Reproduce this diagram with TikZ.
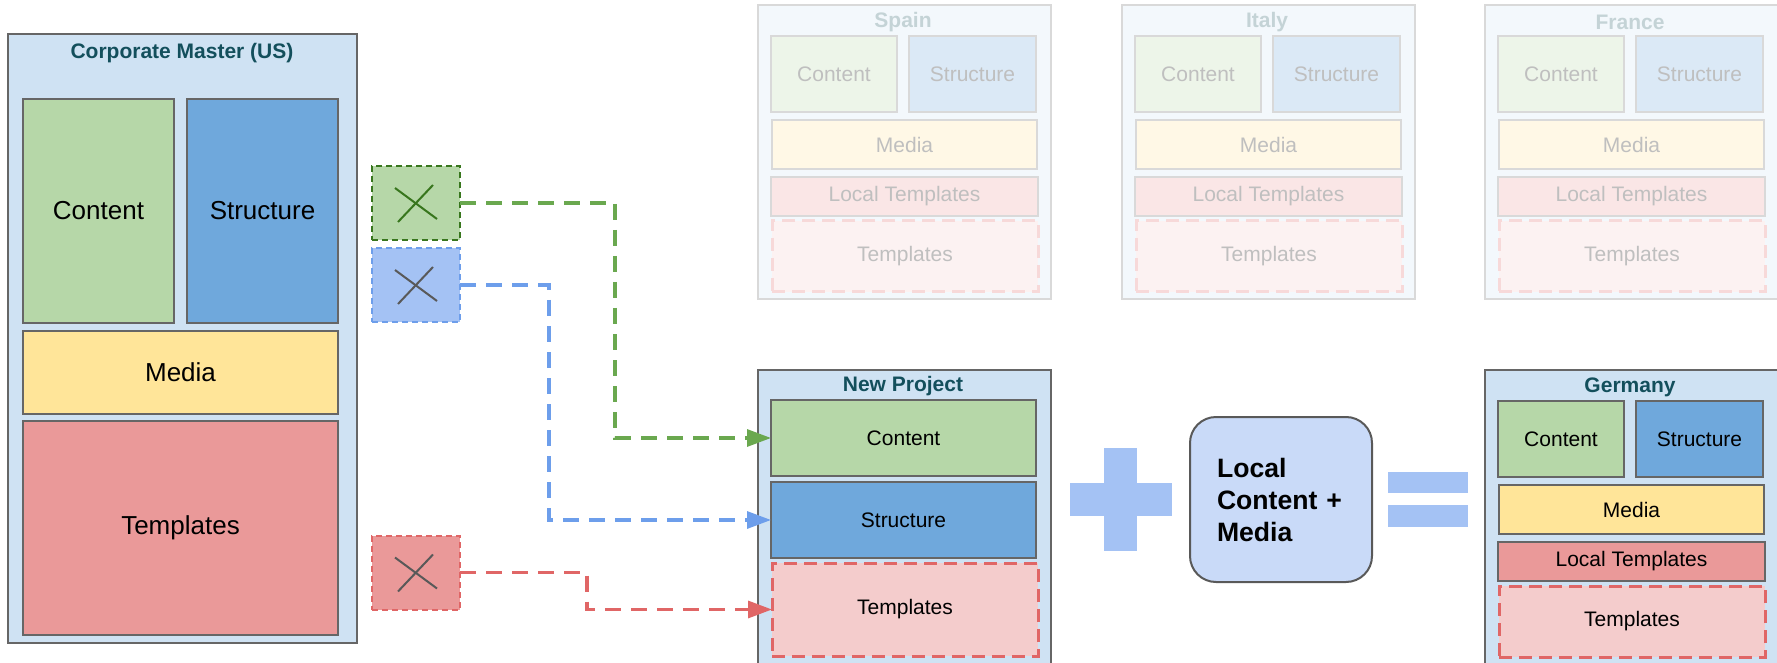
\documentclass[tikz,border=0pt]{standalone}
\usepackage{fontspec}
\setmainfont{Liberation Sans}
\usetikzlibrary{arrows.meta}

\definecolor{cOuter}{HTML}{CFE2F3}
\definecolor{cBorder}{HTML}{666666}
\definecolor{cContent}{HTML}{B6D7A8}
\definecolor{cStruct}{HTML}{6FA8DC}
\definecolor{cMedia}{HTML}{FFE599}
\definecolor{cTempl}{HTML}{EA9999}
\definecolor{cTemplLight}{HTML}{F4CCCC}
\definecolor{cRed}{HTML}{E06666}
\definecolor{cGreen}{HTML}{6AA84F}
\definecolor{cBlueLine}{HTML}{6D9EEB}
\definecolor{cDkGreen}{HTML}{38761D}
\definecolor{cXblue}{HTML}{A4C2F4}
\definecolor{cXgray}{HTML}{595959}
\definecolor{cLocal}{HTML}{C9DAF8}
\definecolor{cTitle}{HTML}{134F5C}

\tikzset{
  base/.style={draw=cBorder, line width=1pt, inner sep=0pt, outer sep=0pt,
    font=\fontsize{10.5}{12}\selectfont, text=black},
  nouter/.style={base, fill=cOuter},
  ncontent/.style={base, fill=cContent},
  nstruct/.style={base, fill=cStruct},
  nmedia/.style={base, fill=cMedia},
  nlocal/.style={base, fill=cTempl},
  ntempl/.style={base, fill=cTemplLight, draw=cRed, line width=1.5pt, dash pattern=on 6.5pt off 3.5pt},
  ntitle/.style={font=\fontsize{10.5}{12}\selectfont\bfseries, text=cTitle, inner sep=0pt},
  fbase/.style={base, draw=cBorder!25!white, text=black!25},
  fouter/.style={fbase, fill=cOuter!25!white},
  fcontent/.style={fbase, fill=cContent!25!white},
  fstruct/.style={fbase, fill=cStruct!25!white},
  fmedia/.style={fbase, fill=cMedia!25!white},
  flocal/.style={fbase, fill=cTempl!25!white},
  ftempl/.style={fbase, fill=cTemplLight!25!white, draw=cRed!25!white, line width=1.5pt, dash pattern=on 6.5pt off 3.5pt},
  ftitle/.style={ntitle, text=cTitle!25!white},
  bigtext/.style={font=\fontsize{13}{15}\selectfont},
  xbox/.style={line width=1pt, dash pattern=on 3pt off 2pt, inner sep=0pt, outer sep=0pt,
    minimum width=44pt, minimum height=37pt},
  conn/.style={line width=1.6pt, dash pattern=on 8pt off 5pt,
    -{Triangle[length=12pt,width=8.5pt]}},
  lbox/.style={draw=cXgray, line width=1pt, fill=cLocal, rounded corners=13pt,
    minimum width=91pt, minimum height=82.5pt, text width=64pt, align=left,
    inner sep=0pt, font=\fontsize{13.3}{16}\selectfont\bfseries},
}

\newcommand\bx[7]{\node[#2, minimum width={(#5-#3)*0.5pt}, minimum height={(#6-#4)*0.5pt}]
  (#1) at ({(#3+#5)/2},{(#4+#6)/2}) {#7};}

\newcommand\country[5]{%
\begin{scope}[shift={(#2,#3)}]
\bx{#1out}{#5outer}{0}{0}{293}{294}{}
\node[#5title] (#1ttl) at (145,17) {#4};
\bx{#1c}{#5content}{13}{31}{139}{107}{Content}
\bx{#1s}{#5struct}{151}{31}{278}{107}{Structure}
\bx{#1m}{#5media}{14}{115}{279}{164}{Media}
\bx{#1l}{#5local}{13}{172}{280}{211}{Local Templates}
\bx{#1t}{#5templ}{14}{216}{280}{287}{Templates}
\end{scope}}

\begin{document}
\begin{tikzpicture}[x=0.5pt, y=-0.5pt]
\useasboundingbox (0,0) rectangle (1777,663);
\clip (0,0) rectangle (1777,663);
\fill[white] (0,0) rectangle (1777,663);

% Corporate master
\bx{cm}{nouter}{8}{34}{357}{643}{}
\node[ntitle] (cmttl) at (182,53) {Corporate Master (US)};
\bx{cmc}{ncontent,bigtext}{23}{99}{174}{323}{Content}
\bx{cms}{nstruct,bigtext}{187}{99}{338}{323}{Structure}
\bx{cmm}{nmedia,bigtext}{23}{331}{338}{414}{Media}
\bx{cmt}{nlocal,bigtext}{23}{421}{338}{635}{Templates}

% X boxes
\node[xbox, fill=cContent, draw=cDkGreen] (gx) at (416,203) {};
\node[xbox, fill=cXblue, draw=cBlueLine] (bxx) at (416,285) {};
\node[xbox, fill=cTempl, draw=cRed] (rx) at (416,572.5) {};
\draw[line width=1pt, cDkGreen] ([shift={(-21,-15)}]gx.center) -- ([shift={(21,16)}]gx.center);
\draw[line width=1pt, cDkGreen] ([shift={(-18,19)}]gx.center) -- ([shift={(17,-18)}]gx.center);
\draw[line width=1pt, cXgray] ([shift={(-21,-15)}]bxx.center) -- ([shift={(21,16)}]bxx.center);
\draw[line width=1pt, cXgray] ([shift={(-18,19)}]bxx.center) -- ([shift={(17,-18)}]bxx.center);
\draw[line width=1pt, cXgray] ([shift={(-21,-15)}]rx.center) -- ([shift={(21,16)}]rx.center);
\draw[line width=1pt, cXgray] ([shift={(-18,19)}]rx.center) -- ([shift={(17,-18)}]rx.center);

% faded countries
\country{sp}{758}{5}{Spain}{f}
\country{it}{1122}{5}{Italy}{f}
\country{fr}{1485}{5}{France}{f}

% New project
\bx{np}{nouter}{758}{370}{1051}{680}{}
\node[ntitle] (npttl) at (903,386) {New Project};
\bx{npc}{ncontent}{771}{400}{1036}{476}{Content}
\bx{nps}{nstruct}{771}{482}{1036}{558}{Structure}
\bx{npt}{ntempl}{772}{563}{1038}{656}{Templates}

% Germany
\country{de}{1485}{370}{Germany}{n}

% connectors
\draw[conn, cGreen] (gx.east) -- ++(155,0) |- (npc.west);
\draw[conn, cBlueLine] (bxx.east) -- ++(89,0) |- (nps.west);
\draw[conn, cRed] (rx.east) -- ++(127,0) |- (npt.west);

% plus
\fill[cXblue] (1104,448) rectangle (1137,551);
\fill[cXblue] (1070,483) rectangle (1172,516);

% local box
\node[lbox] (loc) at (1281,499.5) {Local\\Content +\\Media};

% equals
\fill[cXblue] (1388,472) rectangle (1468,493);
\fill[cXblue] (1388,505) rectangle (1468,527);
\end{tikzpicture}
\end{document}
